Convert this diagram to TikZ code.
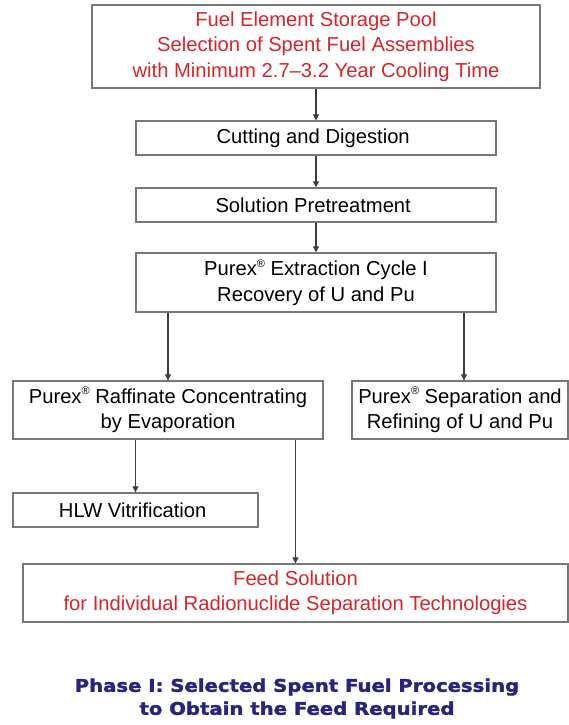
\documentclass[tikz,border=0pt]{standalone}
\usepackage{fontspec}
\setmainfont{Liberation Sans}
\newfontfamily\titlefont[FakeStretch=1.13,FakeBold=2]{DejaVu Sans Bold}
\usetikzlibrary{positioning,arrows.meta}
\definecolor{boxgray}{RGB}{120,120,120}
\definecolor{linegray}{RGB}{60,60,60}
\definecolor{fuelred}{RGB}{214,38,42}
\definecolor{titleblue}{RGB}{38,36,128}
\newcommand{\purex}{Purex\raisebox{0.75ex}{\fontsize{11}{11}\selectfont®}}

\begin{document}
\begin{tikzpicture}[
    x=1pt, y=-1pt,
    box/.style={draw=boxgray, line width=1.4pt, fill=white, inner sep=0pt, align=center,
                font=\fontsize{20.2}{25.5}\selectfont},
    redbox/.style={box, text=fuelred},
    flow/.style={draw=linegray, line width=1.1pt, -{Triangle[length=6pt,width=6pt]}},
    title/.style={align=center, text=titleblue, font=\titlefont\fontsize{17.4}{23}\selectfont}
]
\useasboundingbox[fill=white] (0,0) rectangle (569,725);
\node[redbox, minimum width=448pt, minimum height=83pt] (pool) at (316,46.5) {
Fuel Element Storage Pool\\
Selection of Spent Fuel Assemblies\\
with Minimum 2.7–3.2 Year Cooling Time
};
\node[box, minimum width=360pt, minimum height=34pt] (cut) at (316,138) {
Cutting and Digestion
};
\node[box, minimum width=360pt, minimum height=34pt] (pretreat) at (316,205) {
Solution Pretreatment
};
\node[box, minimum width=360pt, minimum height=59pt] (cycle) at (316,282.5) {
\purex{} Extraction Cycle I\\
Recovery of U and Pu
};
\node[box, minimum width=310pt, minimum height=58pt] (raff) at (168,410) {
\purex{} Raffinate Concentrating\\
by Evaporation
};
\node[box, minimum width=216pt, minimum height=58pt] (refine) at (460,410) {
\purex{} Separation and\\
Refining of U and Pu
};
\node[box, minimum width=245pt, minimum height=34pt] (hlw) at (135.5,510) {
HLW Vitrification
};
\node[redbox, minimum width=545pt, minimum height=58pt] (feed) at (295.5,593) {
Feed Solution\\
for Individual Radionuclide Separation Technologies
};
\node[title] (phase) at (297,698.5) {
Phase I: Selected Spent Fuel Processing\\
to Obtain the Feed Required
};
\draw[flow] (pool) -- (cut);
\draw[flow] (cut) -- (pretreat);
\draw[flow] (pretreat) -- (cycle);
\draw[flow] (raff.north |- cycle.south) -- (raff.north);
\draw[flow] ([xshift=4pt]refine.north |- cycle.south) -- ([xshift=4pt]refine.north);
\draw[flow] (hlw.north |- raff.south) -- (hlw.north);
\draw[flow] (feed.north |- raff.south) -- (feed.north);
\end{tikzpicture}
\end{document}
